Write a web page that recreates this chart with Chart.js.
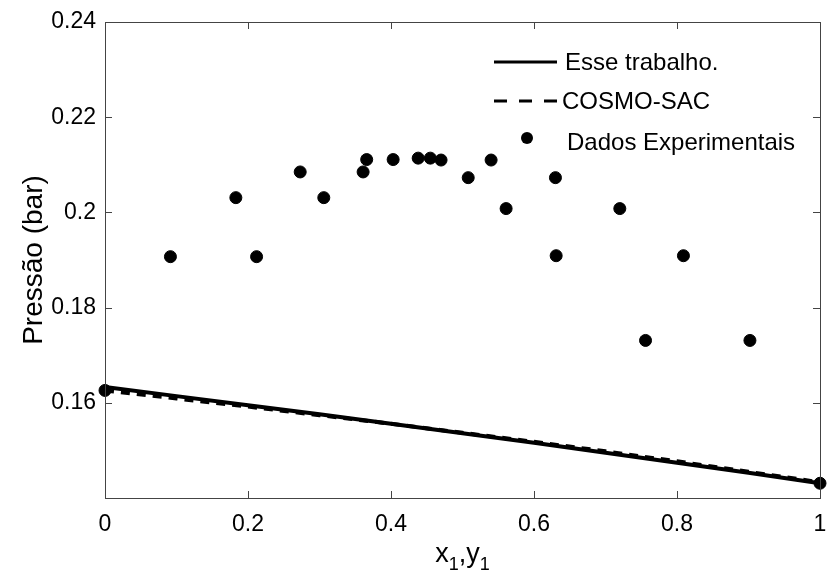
<!DOCTYPE html>
<html>
<head>
<meta charset="utf-8">
<script src="https://cdn.jsdelivr.net/npm/chart.js@4/dist/chart.umd.min.js"></script>
<style>
  body { margin: 0; background: #fff; }
  canvas { display: block; }
</style>
</head>
<body>
<canvas id="grafico" width="827" height="576"></canvas>
<script>
// composição x1,y1 das curvas calculadas
const composicao = [0, 0.1, 0.2, 0.3, 0.4, 0.5, 0.6, 0.7, 0.8, 0.9, 1];
const pressaoModelo = [0.1633, 0.1614, 0.1595, 0.1576, 0.1556, 0.1536, 0.1516, 0.1495, 0.1474, 0.1453, 0.1431];
const pressaoCosmo = [0.1626, 0.1609, 0.1592, 0.1574, 0.1556, 0.1537, 0.1518, 0.1498, 0.1477, 0.1455, 0.1433];

// dados experimentais
const expX = [0, 0.0915, 0.183, 0.212, 0.273, 0.306, 0.361, 0.366, 0.403, 0.438, 0.455, 0.470,
  0.508, 0.540, 0.561, 0.630, 0.631, 0.720, 0.756, 0.809, 0.902, 1];
const expP = [0.1626, 0.1907, 0.2031, 0.1907, 0.2085, 0.2031, 0.2085, 0.2111, 0.2111, 0.2114, 0.2114, 0.2110,
  0.2073, 0.2110, 0.2008, 0.2073, 0.1909, 0.2008, 0.1731, 0.1909, 0.1731, 0.1431];

const xTicks = [0, 0.2, 0.4, 0.6, 0.8, 1];
const yTicks = [0.16, 0.18, 0.2, 0.22, 0.24];

const legendLabels = ['Esse trabalho.', 'COSMO-SAC', 'Dados Experimentais'];

const fonte = '"Liberation Sans", Arial, sans-serif';

// moldura, marcas internas, legenda e títulos dos eixos (estilo MATLAB)
const extras = {
    id: 'extras',
    afterDraw(chart) {
        const ctx = chart.ctx;
        const a = chart.chartArea;
        const xs = chart.scales.x, ys = chart.scales.y;
        ctx.save();
        ctx.strokeStyle = '#444';
        ctx.lineWidth = 1;
        ctx.strokeRect(a.left + 0.5, a.top + 0.5, a.right - a.left, a.bottom - a.top);
        ctx.beginPath();
        xTicks.forEach(v => {
            const px = Math.round(xs.getPixelForValue(v)) + 0.5;
            ctx.moveTo(px, a.bottom); ctx.lineTo(px, a.bottom - 7);
            ctx.moveTo(px, a.top); ctx.lineTo(px, a.top + 7);
        });
        yTicks.forEach(v => {
            const py = Math.round(ys.getPixelForValue(v)) + 0.5;
            ctx.moveTo(a.left, py); ctx.lineTo(a.left + 7, py);
            ctx.moveTo(a.right, py); ctx.lineTo(a.right - 7, py);
        });
        ctx.stroke();

        // legenda
        ctx.fillStyle = '#000';
        ctx.strokeStyle = '#000';
        ctx.font = '24px ' + fonte;
        ctx.textBaseline = 'middle';
        ctx.textAlign = 'left';
        ctx.lineWidth = 3;
        ctx.beginPath(); ctx.moveTo(494, 62); ctx.lineTo(557, 62); ctx.stroke();
        ctx.fillText(legendLabels[0], 565, 63);
        ctx.setLineDash([13, 12]);
        ctx.beginPath(); ctx.moveTo(494, 101); ctx.lineTo(557, 101); ctx.stroke();
        ctx.setLineDash([]);
        ctx.fillText(legendLabels[1], 562, 102);
        ctx.beginPath(); ctx.arc(527, 138, 6, 0, Math.PI * 2); ctx.fill();
        ctx.fillText(legendLabels[2], 567, 143);

        // título eixo y
        ctx.font = '28px ' + fonte;
        ctx.textAlign = 'center';
        ctx.save();
        ctx.translate(34, (a.top + a.bottom) / 2);
        ctx.rotate(-Math.PI / 2);
        ctx.fillText('Pressão (bar)', 0, 0);
        ctx.restore();

        // título eixo x com subscritos
        const partes = [['x', 0], ['1', 1], [',', 0], ['y', 0], ['1', 1]];
        const fN = '27px ' + fonte, fS = '18px ' + fonte;
        let largura = 0;
        partes.forEach(p => { ctx.font = p[1] ? fS : fN; largura += ctx.measureText(p[0]).width; });
        let cx = (a.left + a.right) / 2 - largura / 2;
        ctx.textAlign = 'left';
        ctx.textBaseline = 'alphabetic';
        partes.forEach(p => {
            ctx.font = p[1] ? fS : fN;
            ctx.fillText(p[0], cx, p[1] ? 570 : 562);
            cx += ctx.measureText(p[0]).width;
        });
        ctx.restore();
    }
};

new Chart(document.getElementById('grafico'), {
    type: 'scatter',
    data: {
        datasets: [
            {
                label: legendLabels[0],
                data: composicao.map((x, i) => ({ x: x, y: pressaoModelo[i] })),
                showLine: true,
                borderColor: '#000',
                borderWidth: 4,
                pointRadius: 0,
                clip: false
            },
            {
                label: legendLabels[1],
                data: composicao.map((x, i) => ({ x: x, y: pressaoCosmo[i] })),
                showLine: true,
                borderColor: '#000',
                borderWidth: 4,
                borderDash: [9, 7],
                pointRadius: 0,
                clip: false
            },
            {
                label: legendLabels[2],
                data: expX.map((x, i) => ({ x: x, y: expP[i] })),
                backgroundColor: '#000',
                borderColor: '#000',
                pointRadius: 6,
                pointHoverRadius: 6,
                clip: false
            }
        ]
    },
    options: {
        responsive: false,
        animation: false,
        layout: { padding: { top: 22, right: 7, left: 0, bottom: 0 } },
        plugins: { legend: { display: false }, tooltip: { enabled: false } },
        scales: {
            x: {
                type: 'linear',
                min: 0,
                max: 1,
                afterFit: s => { s.height = 78; s.paddingLeft = 0; s.paddingRight = 0; },
                afterBuildTicks: s => { s.ticks = xTicks.map(v => ({ value: v })); },
                grid: { display: false, drawTicks: false },
                border: { display: false },
                ticks: {
                    color: '#000',
                    padding: 13,
                    maxRotation: 0,
                    font: { family: fonte, size: 23 },
                    callback: v => String(v)
                }
            },
            y: {
                type: 'linear',
                min: 0.14,
                max: 0.24,
                afterFit: s => { s.width = 105; s.paddingTop = 0; s.paddingBottom = 0; },
                afterBuildTicks: s => { s.ticks = yTicks.map(v => ({ value: v })); },
                grid: { display: false, drawTicks: false },
                border: { display: false },
                ticks: {
                    color: '#000',
                    padding: 9,
                    font: { family: fonte, size: 23 },
                    callback: v => String(Math.round(v * 100) / 100)
                }
            }
        }
    },
    plugins: [extras]
});
</script>
</body>
</html>
